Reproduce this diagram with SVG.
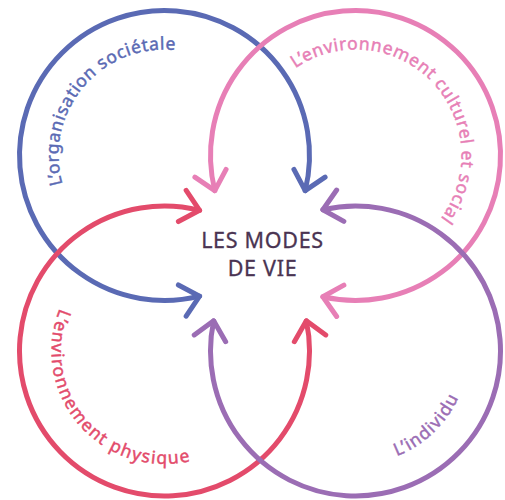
<svg xmlns="http://www.w3.org/2000/svg" width="505" height="500" viewBox="0 0 505 500">
<defs>
<style>
.arc{fill:none;stroke-width:5;stroke-linecap:round;stroke-linejoin:round}
.lbl{font-family:"Noto Sans","Liberation Sans",sans-serif;font-size:17.5px;stroke-width:0.45px}
.ctr{font-family:"Noto Sans","Liberation Sans",sans-serif;font-size:21.5px;letter-spacing:0.7px;fill:#4a3452;stroke:#4a3452;stroke-width:0.3px;text-anchor:middle}
.blue{stroke:#5a6ab4}.pink{stroke:#e77fb6}.red{stroke:#e34b6b}.purple{stroke:#9b6db4}
</style>
<path id="tp-blue" d="M 111.5 247.3 A 106 106 0 1 1 245.7 87.36"/>
<path id="tp-pink" d="M 269.74 93.19 A 106 106 0 1 1 414.77 243.38"/>
<path id="tp-red" d="M 107.15 253.64 A 113 113 0 1 0 251.69 422.88"/>
<path id="tp-purple" d="M 261.27 413.36 A 113 113 0 1 0 422.71 260.16"/>
</defs>
<rect width="505" height="500" fill="#ffffff"/>
<g id="connectors">
<g class="arc blue">
<path d="M 199.58 296.19 A 145 145 0 1 1 305.19 190.58"/>
<path d="M 186.16 316.09 L 199.58 296.19 L 178.39 284.92"/>
<path d="M 325.09 177.16 L 305.19 190.58 L 293.92 169.39"/>
</g>
<g class="arc pink">
<path d="M 214.81 190.58 A 145 145 0 1 1 322.88 296.79"/>
<path d="M 194.91 177.16 L 214.81 190.58 L 226.08 169.39"/>
<path d="M 336.65 316.45 L 322.88 296.79 L 343.87 285.15"/>
</g>
<g class="arc red">
<path d="M 306.33 320.85 A 145 145 0 1 1 199.58 210.31"/>
<path d="M 325.75 334.96 L 306.33 320.85 L 294.33 341.63"/>
<path d="M 186.16 190.41 L 199.58 210.31 L 178.39 221.58"/>
</g>
<g class="arc purple">
<path d="M 322.88 209.71 A 145 145 0 1 1 213.67 320.85"/>
<path d="M 336.65 190.05 L 322.88 209.71 L 343.87 221.35"/>
<path d="M 194.25 334.96 L 213.67 320.85 L 225.67 341.63"/>
</g>
</g>
<g id="node-organisation">
<text class="lbl" fill="#5a6ab4" stroke="#5a6ab4"><textPath href="#tp-blue" startOffset="50%" text-anchor="middle" textLength="206" lengthAdjust="spacing">L’organisation sociétale</textPath></text>
</g>
<g id="node-culturel">
<text class="lbl" fill="#e77fb6" stroke="#e77fb6"><textPath href="#tp-pink" startOffset="50%" text-anchor="middle" textLength="298" lengthAdjust="spacing">L’environnement culturel et social</textPath></text>
</g>
<g id="node-physique">
<text class="lbl" fill="#e34b6b" stroke="#e34b6b"><textPath href="#tp-red" startOffset="50%" text-anchor="middle" textLength="247" lengthAdjust="spacing">L’environnement physique</textPath></text>
</g>
<g id="node-individu">
<text class="lbl" fill="#9b6db4" stroke="#9b6db4"><textPath href="#tp-purple" startOffset="50%" text-anchor="middle" textLength="87" lengthAdjust="spacing">L’individu</textPath></text>
</g>
<g id="node-center">
<text class="ctr" x="262.5" y="247.5">LES MODES</text>
<text class="ctr" x="262.5" y="276">DE VIE</text>
</g>
</svg>
